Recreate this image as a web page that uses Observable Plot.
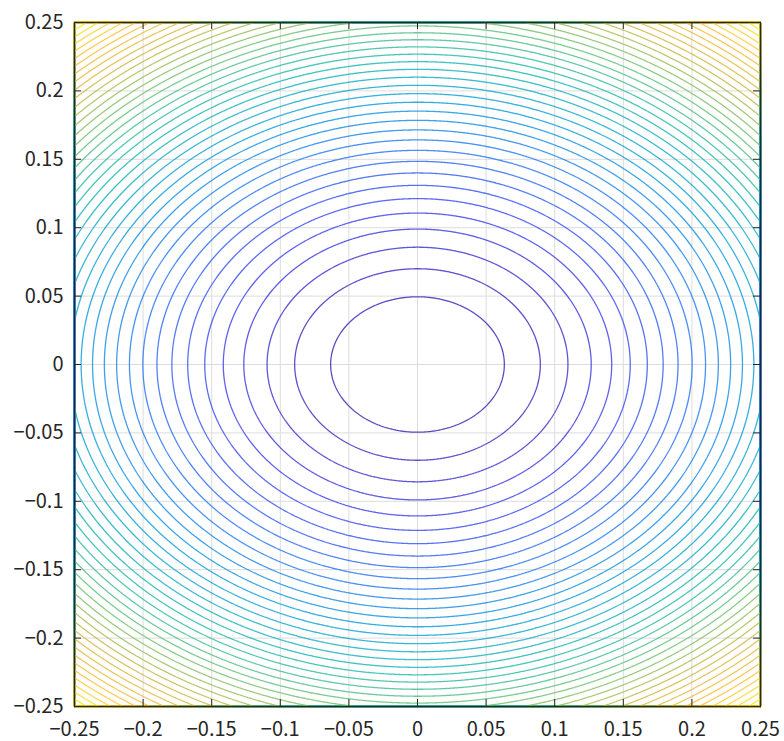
<!DOCTYPE html>
<html>
<head>
<meta charset="utf-8">
<script src="https://cdn.jsdelivr.net/npm/d3@7"></script>
<script src="https://cdn.jsdelivr.net/npm/@observablehq/plot@0.6"></script>
<style>
  html, body { margin: 0; padding: 0; background: #ffffff; }
  #chart svg { display: block; }
</style>
</head>
<body>
<div id="chart"></div>
<script>
// Tick values (both axes)
const xTicks = [-0.25, -0.2, -0.15, -0.1, -0.05, 0, 0.05, 0.1, 0.15, 0.2, 0.25];
const yTicks = [-0.25, -0.2, -0.15, -0.1, -0.05, 0, 0.05, 0.1, 0.15, 0.2, 0.25];

// Contour levels (in units of the innermost contour) and the semi-axes of the innermost ellipse
const levels = [1, 2, 3, 4, 5, 6, 7, 8, 9, 10, 11, 12, 13, 14, 15, 16, 17, 18, 19, 20,
                21, 22, 23, 24, 25, 26, 27, 28, 29, 30, 31, 32, 33, 34, 35, 36, 37, 38, 39, 40, 41];
const innerSemiAxisX = 0.0633;
const innerSemiAxisY = 0.0495;

// Parula colour map stops
const parula = ["#3e26a8", "#4648ee", "#2d7cf3", "#12a3dc", "#20bcb2", "#6fc475", "#d1ba47", "#fdc13a", "#f7f312"];

const domainX = [-0.25, 0.25];
const domainY = [-0.25, 0.25];

const surface = (x, y) => (x / innerSemiAxisX) ** 2 + (y / innerSemiAxisY) ** 2;
const zMax = surface(domainX[1], domainY[1]);

const W = 784, H = 741;
const mL = 74, mR = 24, mT = 22, mB = 35;
const frameW = W - mL - mR, frameH = H - mT - mB;
const tickLen = 7;
const ink = "#262626";
const fmt = d3.format("~g");

const chart = Plot.plot({
  width: W,
  height: H,
  marginLeft: mL,
  marginRight: mR,
  marginTop: mT,
  marginBottom: mB,
  style: { fontFamily: "'Noto Sans CJK JP', 'Noto Sans', sans-serif", fontSize: "20px", color: ink, background: "#fff" },
  x: { domain: domainX },
  y: { domain: domainY },
  color: { type: "linear", domain: [0, zMax], interpolate: d3.piecewise(d3.interpolateRgb, parula) },
  marks: [
    Plot.gridX(xTicks, { stroke: "#dcdcdc", strokeOpacity: 1, strokeWidth: 1 }),
    Plot.gridY(yTicks, { stroke: "#dcdcdc", strokeOpacity: 1, strokeWidth: 1 }),
    Plot.contour({
      value: surface,
      x1: domainX[0], x2: domainX[1], y1: domainY[0], y2: domainY[1],
      thresholds: levels,
      pixelSize: 1,
      stroke: "value",
      fill: "none",
      strokeWidth: 1.3,
      strokeOpacity: 0.85
    }),
    Plot.axisX(xTicks, { tickSize: 0, tickPadding: 15, tickFormat: fmt, fontSize: 20, fill: ink }),
    Plot.axisY(yTicks, { tickSize: 0, tickPadding: 11, tickFormat: fmt, fontSize: 20, fill: ink }),
    // inward tick marks on all four sides
    Plot.ruleX(xTicks, { x: d => d, insetTop: frameH - tickLen, stroke: ink, strokeWidth: 1 }),
    Plot.ruleX(xTicks, { x: d => d, insetBottom: frameH - tickLen, stroke: ink, strokeWidth: 1 }),
    Plot.ruleY(yTicks, { y: d => d, insetRight: frameW - tickLen, stroke: ink, strokeWidth: 1 }),
    Plot.ruleY(yTicks, { y: d => d, insetLeft: frameW - tickLen, stroke: ink, strokeWidth: 1 }),
    Plot.frame({ stroke: ink, strokeWidth: 1.3 })
  ]
});

document.getElementById("chart").appendChild(chart);
</script>
</body>
</html>
